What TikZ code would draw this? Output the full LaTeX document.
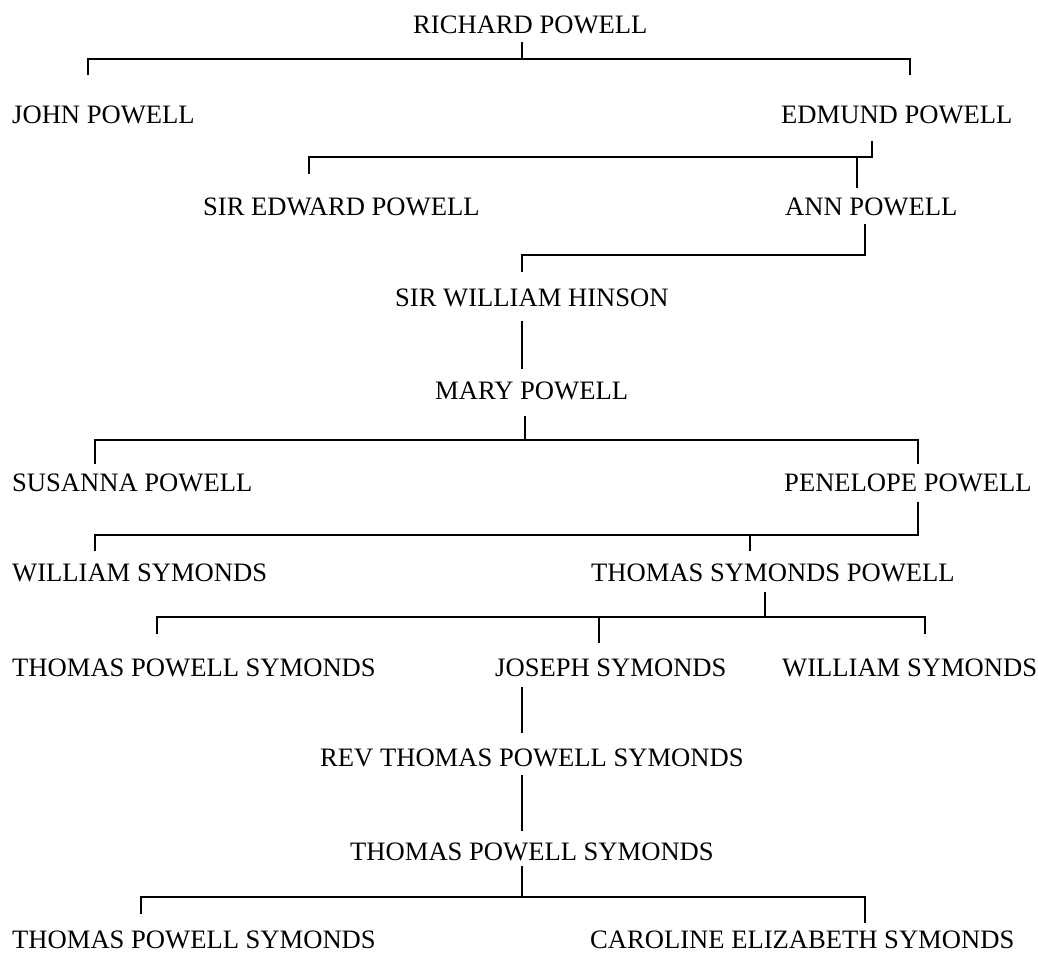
\documentclass[tikz,border=0pt]{standalone}
\usepackage{fontspec}
\setmainfont{Liberation Serif}
\begin{document}
\begin{tikzpicture}[x=1pt,y=-1pt,
  person/.style={anchor=west,inner sep=0pt,text height=17.6pt,text depth=0pt,font=\fontsize{26.6}{30}\selectfont},
  link/.style={line width=1.6pt,line cap=rect}]
\useasboundingbox (0,0) rectangle (1038,954);
% people
\node[person] (rp) at (413,25) {RICHARD POWELL};
\node[person] (jp) at (12,115) {JOHN POWELL};
\node[person] (ep) at (781,115) {EDMUND POWELL};
\node[person] (sep) at (203,207) {SIR EDWARD POWELL};
\node[person] (ap) at (785,207) {ANN POWELL};
\node[person] (swh) at (395,298) {SIR WILLIAM HINSON};
\node[person] (mp) at (435,391) {MARY POWELL};
\node[person] (sp) at (12,483) {SUSANNA POWELL};
\node[person] (pp) at (784,483) {PENELOPE POWELL};
\node[person] (ws1) at (12,573) {WILLIAM SYMONDS};
\node[person] (tsp) at (591,573) {THOMAS SYMONDS POWELL};
\node[person] (tps1) at (12,668) {THOMAS POWELL SYMONDS};
\node[person] (js) at (495,668) {JOSEPH SYMONDS};
\node[person] (ws2) at (782,668) {WILLIAM SYMONDS};
\node[person] (rtps) at (320,758) {REV THOMAS POWELL SYMONDS};
\node[person] (tps2) at (350,852) {THOMAS POWELL SYMONDS};
\node[person] (tps3) at (12,940) {THOMAS POWELL SYMONDS};
\node[person] (ces) at (590,940) {CAROLINE ELIZABETH SYMONDS};
% connector end points
\coordinate (rpB) at (522,43);  \coordinate (rpJ) at (522,59);
\coordinate (jpT) at (88,74);   \coordinate (epT) at (910,74);
\coordinate (epB) at (872,142); \coordinate (epJ) at (872,157);
\coordinate (sepT) at (309,173);\coordinate (apJ) at (857,157); \coordinate (apT) at (857,187);
\coordinate (apB) at (865,225); \coordinate (swhT) at (522,271);
\coordinate (swhB) at (522,322);\coordinate (mpT) at (522,368);
\coordinate (mpB) at (525,417); \coordinate (mpJ) at (525,440);
\coordinate (spT) at (95,463);  \coordinate (ppT) at (918,463);
\coordinate (ppB) at (918,503); \coordinate (ws1T) at (95,550); \coordinate (tspT) at (750,550);
\coordinate (tspB) at (765,593);\coordinate (tspJ) at (765,617);
\coordinate (tps1T) at (157,633);\coordinate (ws2T) at (925,633); \coordinate (jsT) at (599,642);
\coordinate (jsB) at (522,688); \coordinate (rtpsT) at (522,732);
\coordinate (rtpsB) at (522,776);\coordinate (tps2T) at (522,830);
\coordinate (tps2B) at (522,867);\coordinate (tps2J) at (522,897);
\coordinate (tps3T) at (141,913);\coordinate (cesT) at (865,922);
% connectors
\draw[link] (rpB) -- (rpJ);
\draw[link] (jpT) |- (rpJ) -| (epT);
\draw[link] (epB) -- (epJ);
\draw[link] (sepT) |- (epJ);
\draw[link] (apJ) -- (apT);
\draw[link] (apB) |- (swhT |- 0,255) -- (swhT);
\draw[link] (swhB) -- (mpT);
\draw[link] (mpB) -- (mpJ);
\draw[link] (spT) |- (mpJ) -| (ppT);
\draw[link] (ppB) |- (ws1T |- 0,535) -- (ws1T);
\draw[link] (tspT) -- (tspT |- 0,535);
\draw[link] (tspB) -- (tspJ);
\draw[link] (tps1T) |- (tspJ) -| (ws2T);
\draw[link] (jsT) -- (jsT |- tspJ);
\draw[link] (jsB) -- (rtpsT);
\draw[link] (rtpsB) -- (tps2T);
\draw[link] (tps2B) -- (tps2J);
\draw[link] (tps3T) |- (tps2J) -| (cesT);
\end{tikzpicture}
\end{document}
